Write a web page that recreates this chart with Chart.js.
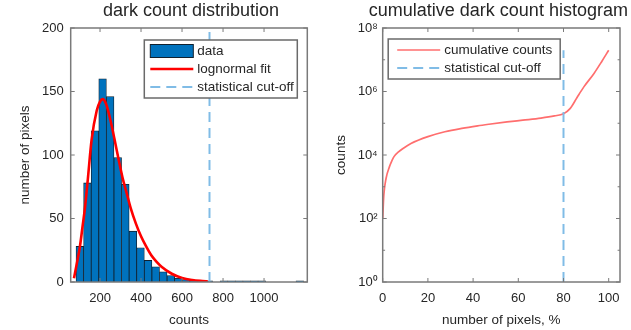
<!DOCTYPE html>
<html>
<head>
<meta charset="utf-8">
<title>dark count</title>
<script src="https://cdn.jsdelivr.net/npm/chart.js@4.4.0/dist/chart.umd.min.js"></script>
<style>
	html, body { margin: 0; padding: 0; background: #fff; }
	#wrap { position: relative; width: 631px; height: 330px; overflow: hidden; }
	#leftChart { position: absolute; left: 0; top: 0; }
	#rightChart { position: absolute; left: 320px; top: 0; }
</style>
</head>
<body>
<div id="wrap">
	<canvas id="leftChart" width="320" height="330"></canvas>
	<canvas id="rightChart" width="311" height="330"></canvas>
</div>
<script>
//Histogram bins (bin centres, counts) and number of pixels in each bin
var binCenters = [101.5, 138.5, 175.5, 212.5, 249.5, 286.5, 323.5, 360.5, 397.5, 434.5,
	471.5, 508.5, 545.5, 582.5, 619.5, 656.5, 693.5, 730.5, 767.5, 804.5,
	841.5, 878.5, 915.5, 952.5, 989.5, 1026.5, 1063.5, 1100.5, 1137.5, 1174.5];
var pixelsPerBin = [28, 78, 119, 160, 146, 98, 77, 40, 27, 17,
	12, 8, 5, 3, 2, 1, 1, 1, 0, 1,
	1, 1, 1, 1, 1, 0, 0, 0, 0, 1];

//Lognormal fit curve
var fitCounts = [73, 85, 102, 115, 127, 140, 159, 184, 200, 213, 230, 250, 270, 290, 310, 330,
	350, 375, 400, 425, 450, 475, 500, 550, 600, 650, 700, 725];
var fitPixels = [3, 13, 28, 44, 59, 80, 112, 135, 142, 144, 140, 128, 113, 97, 82, 70,
	58, 46, 36, 28, 21, 16, 12, 6.5, 3.2, 1.6, 0.8, 0.5];

//Cumulative dark count histogram
var pixelPercent = [0, 0.5, 1.5, 3, 4, 5, 7, 9, 12.5, 20, 27.5, 35, 42, 47, 55, 62, 70, 76,
	80, 83, 86, 89, 93.5, 97, 100];
var cumulativeCounts = [100, 550, 1850, 4300, 6400, 8900, 12500, 16000, 23000, 38000, 54000, 69000,
	83000, 93000, 110000, 125000, 145000, 170000, 200000, 295000, 650000, 1400000,
	3700000, 9000000, 20000000];

//Statistical cut-off positions
var cutoffCount = 734;
var cutoffPercent = 80;

//Tick values
var countTicks = [200, 400, 600, 800, 1000];
var pixelTicks = [0, 50, 100, 150, 200];
var percentTicks = [0, 20, 40, 60, 80, 100];
var logTicks = [1, 1e2, 1e4, 1e6, 1e8];
var logMinorTicks = [10, 1e3, 1e5, 1e7];

var FONT = "'Liberation Sans', Arial, Helvetica, sans-serif";
var INK = '#262626';
var AXIS = '#7a7a7a';
var SUP = ['\u2070', '\u00b9', '\u00b2', '\u00b3', '\u2074', '\u2075', '\u2076', '\u2077', '\u2078', '\u2079'];

//Title drawn centred over the plot box
var plotTitle = {
	id: 'plotTitle',
	afterDraw: function (chart, args, opts) {
		var ctx = chart.ctx, a = chart.chartArea;
		ctx.save();
		ctx.font = '18px ' + FONT;
		ctx.fillStyle = INK;
		ctx.textAlign = 'center';
		ctx.textBaseline = 'alphabetic';
		ctx.fillText(opts.text, (a.left + a.right) / 2 + (opts.shift || 0), opts.baseline);
		ctx.restore();
	}
};

//Box round the plot with inward tick marks on all four sides
var boxAxes = {
	id: 'boxAxes',
	afterDatasetsDraw: function (chart, args, opts) {
		var ctx = chart.ctx, a = chart.chartArea;
		var xs = chart.scales.x, ys = chart.scales.y;
		var len = 4;
		ctx.save();
		ctx.strokeStyle = AXIS;
		ctx.lineWidth = 1;
		ctx.beginPath();
		xs.ticks.forEach(function (t) {
			var px = xs.getPixelForValue(t.value);
			ctx.moveTo(px, a.bottom); ctx.lineTo(px, a.bottom - len);
			ctx.moveTo(px, a.top); ctx.lineTo(px, a.top + len);
		});
		ys.ticks.forEach(function (t) {
			var py = ys.getPixelForValue(t.value);
			ctx.moveTo(a.left, py); ctx.lineTo(a.left + len, py);
			ctx.moveTo(a.right, py); ctx.lineTo(a.right - len, py);
		});
		(opts.minorY || []).forEach(function (v) {
			var py = ys.getPixelForValue(v);
			ctx.moveTo(a.left, py); ctx.lineTo(a.left + len * 0.6, py);
			ctx.moveTo(a.right, py); ctx.lineTo(a.right - len * 0.6, py);
		});
		ctx.stroke();
		ctx.lineWidth = 1.5;
		ctx.strokeRect(a.left, a.top, a.right - a.left, a.bottom - a.top);
		ctx.restore();
	}
};

//Legend box drawn inside the plot
var insetLegend = {
	id: 'insetLegend',
	afterDraw: function (chart, args, opts) {
		var ctx = chart.ctx, a = chart.chartArea;
		var items = chart.data.datasets;
		var x = opts.align === 'right' ? a.right - opts.offsetX - opts.width : a.left + opts.offsetX;
		var y = a.top + opts.offsetY;
		var h = items.length * opts.rowHeight + 4;
		ctx.save();
		ctx.fillStyle = '#fff';
		ctx.fillRect(x, y, opts.width, h);
		ctx.strokeStyle = '#6a6a6a';
		ctx.lineWidth = 1.5;
		ctx.strokeRect(x, y, opts.width, h);
		ctx.font = '13.5px ' + FONT;
		ctx.textBaseline = 'middle';
		ctx.textAlign = 'left';
		items.forEach(function (ds, i) {
			var cy = y + 2 + opts.rowHeight * (i + 0.5);
			var sx = x + opts.symX, sw = 43;
			if (ds.type === 'bar') {
				ctx.fillStyle = ds.backgroundColor;
				ctx.fillRect(sx, cy - 6.5, sw, 13);
				ctx.strokeStyle = ds.borderColor;
				ctx.lineWidth = 1;
				ctx.strokeRect(sx, cy - 6.5, sw, 13);
			} else {
				ctx.strokeStyle = ds.borderColor;
				ctx.lineWidth = ds.borderWidth;
				ctx.setLineDash(ds.borderDash || []);
				ctx.beginPath();
				ctx.moveTo(sx, cy);
				ctx.lineTo(sx + sw, cy);
				ctx.stroke();
				ctx.setLineDash([]);
			}
			ctx.fillStyle = INK;
			ctx.fillText(ds.label, sx + sw + 4, cy + 0.5);
		});
		ctx.restore();
	}
};

function setTicks(list) {
	return function (scale) {
		scale.ticks = list.map(function (v) { return { value: v }; });
	};
}

var tickFont = { family: FONT, size: 13 };
var titleFont = { family: FONT, size: 13.5 };

//Left chart - dark count distribution
var histPoints = binCenters.map(function (c, i) { return { x: c, y: pixelsPerBin[i] }; });
var fitPoints = fitCounts.map(function (c, i) { return { x: c, y: fitPixels[i] }; });

new Chart(document.getElementById('leftChart'), {
	type: 'bar',
	data: {
		datasets: [{
			type: 'bar',
			label: 'data',
			data: histPoints,
			backgroundColor: '#0072BD',
			borderColor: '#10202e',
			borderWidth: 0.8,
			barPercentage: 1,
			categoryPercentage: 1,
			order: 3
		},
		{
			type: 'line',
			label: 'lognormal fit',
			data: fitPoints,
			borderColor: '#ff0000',
			borderWidth: 2.6,
			pointRadius: 0,
			cubicInterpolationMode: 'monotone',
			order: 2
		},
		{
			type: 'line',
			label: 'statistical cut-off',
			data: [{ x: cutoffCount, y: 0 }, { x: cutoffCount, y: 200 }],
			borderColor: '#80bce6',
			borderWidth: 2,
			borderDash: [10, 6],
			pointRadius: 0,
			order: 1
		}]
	},
	options: {
		responsive: false,
		animation: false,
		events: [],
		layout: { padding: { left: 0, right: 12.7, top: 28, bottom: 0 } },
		plugins: {
			legend: { display: false },
			tooltip: { enabled: false },
			plotTitle: { text: 'dark count distribution', baseline: 16, shift: 2 },
			boxAxes: {},
			insetLegend: { align: 'right', offsetX: 10, offsetY: 12, width: 153, rowHeight: 18, symX: 6 }
		},
		scales: {
			x: {
				type: 'linear',
				min: 57,
				max: 1211,
				offset: false,
				grid: { display: false, drawTicks: false },
				border: { display: false },
				afterBuildTicks: setTicks(countTicks),
				afterFit: function (s) { s.height = 48; },
				ticks: {
					font: tickFont, color: INK, padding: 9, autoSkip: false, maxRotation: 0,
					callback: function (v) { return String(v); }
				},
				title: { display: true, text: 'counts', font: titleFont, color: INK, padding: { top: 0, bottom: 2 } }
			},
			y: {
				min: 0,
				max: 200,
				grid: { display: false, drawTicks: false },
				border: { display: false },
				afterBuildTicks: setTicks(pixelTicks),
				afterFit: function (s) { s.width = 70.7; },
				ticks: { font: tickFont, color: INK, padding: 7 },
				title: { display: true, text: 'number of pixels', font: titleFont, color: INK, padding: { top: 17, bottom: 0 } }
			}
		}
	},
	plugins: [plotTitle, boxAxes, insetLegend]
});

//Right chart - cumulative dark count histogram
var cumPoints = pixelPercent.map(function (p, i) { return { x: p, y: cumulativeCounts[i] }; });

new Chart(document.getElementById('rightChart'), {
	type: 'line',
	data: {
		datasets: [{
			type: 'line',
			label: 'cumulative counts',
			data: cumPoints,
			borderColor: '#ff6e6e',
			borderWidth: 1.7,
			pointRadius: 0,
			cubicInterpolationMode: 'monotone',
			order: 2
		},
		{
			type: 'line',
			label: 'statistical cut-off',
			data: [{ x: cutoffPercent, y: 1 }, { x: cutoffPercent, y: 20000000 }],
			borderColor: '#80bce6',
			borderWidth: 2,
			borderDash: [10, 6],
			pointRadius: 0,
			order: 1
		}]
	},
	options: {
		responsive: false,
		animation: false,
		events: [],
		layout: { padding: { left: 0, right: 11, top: 28, bottom: 0 } },
		plugins: {
			legend: { display: false },
			tooltip: { enabled: false },
			plotTitle: { text: 'cumulative dark count histogram', baseline: 16, shift: -3 },
			boxAxes: { minorY: logMinorTicks },
			insetLegend: { align: 'left', offsetX: 5.5, offsetY: 11, width: 172, rowHeight: 18, symX: 9 }
		},
		scales: {
			x: {
				type: 'linear',
				min: 0,
				max: 105,
				grid: { display: false, drawTicks: false },
				border: { display: false },
				afterBuildTicks: setTicks(percentTicks),
				afterFit: function (s) { s.height = 48; },
				ticks: { font: tickFont, color: INK, padding: 9, autoSkip: false, maxRotation: 0 },
				title: { display: true, text: 'number of pixels, %', font: titleFont, color: INK, padding: { top: 0, bottom: 2 } }
			},
			y: {
				type: 'logarithmic',
				min: 1,
				max: 1e8,
				grid: { display: false, drawTicks: false },
				border: { display: false },
				afterBuildTicks: setTicks(logTicks),
				afterFit: function (s) { s.width = 62.7; },
				ticks: {
					font: tickFont,
					color: INK,
					padding: 5,
					autoSkip: false,
					callback: function (v) { return '10' + SUP[Math.round(Math.log10(v))]; }
				},
				title: { display: true, text: 'counts', font: titleFont, color: INK, padding: { top: 13, bottom: 0 } }
			}
		}
	},
	plugins: [plotTitle, boxAxes, insetLegend]
});
</script>
</body>
</html>
